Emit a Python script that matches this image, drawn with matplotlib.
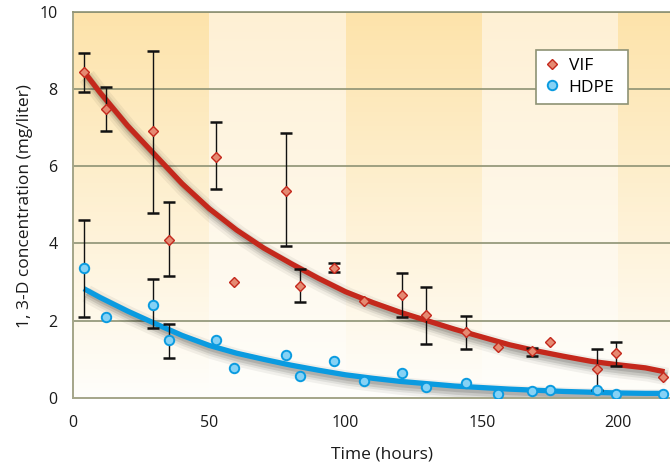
import numpy as np
import matplotlib
matplotlib.use('Agg')
import matplotlib.pyplot as plt
import matplotlib.patheffects as pe
from matplotlib.colors import to_rgb
from matplotlib.patches import Rectangle

# ---------------- data ----------------
time_h = [4.0, 12.0, 29.4, 35.3, 52.6, 59.1, 78.2, 83.3, 95.8, 106.8,
          120.8, 129.5, 144.3, 155.9, 168.4, 175.0, 192.4, 199.2, 216.4]

vif = [8.43, 7.49, 6.91, 4.10, 6.25, 3.00, 5.36, 2.91, 3.37, 2.51,
       2.67, 2.14, 1.70, 1.32, 1.21, 1.44, 0.75, 1.16, 0.54]
vif_lo = [7.92, 6.91, 4.79, 3.15, 5.40, np.nan, 3.94, 2.49, 3.26, np.nan,
          2.10, 1.41, 1.27, np.nan, 1.09, np.nan, 0.22, 0.83, np.nan]
vif_hi = [8.92, 8.06, 8.99, 5.07, 7.14, np.nan, 6.86, 3.35, 3.50, np.nan,
          3.24, 2.88, 2.13, np.nan, 1.30, np.nan, 1.27, 1.45, np.nan]

hdpe = [3.37, 2.10, 2.42, 1.49, 1.49, 0.78, 1.12, 0.58, 0.96, 0.45,
        0.66, 0.29, 0.38, 0.10, 0.19, 0.22, 0.20, 0.10, 0.10]
hdpe_lo = [2.10, np.nan, 1.82, 1.04, np.nan, np.nan, np.nan, np.nan, np.nan, np.nan,
           np.nan, np.nan, np.nan, np.nan, np.nan, np.nan, np.nan, np.nan, np.nan]
hdpe_hi = [4.60, np.nan, 3.08, 1.92, np.nan, np.nan, np.nan, np.nan, np.nan, np.nan,
           np.nan, np.nan, np.nan, np.nan, np.nan, np.nan, np.nan, np.nan, np.nan]

fit_time = [4, 10, 20, 30, 40, 50, 60, 70, 80, 90, 100, 110, 120, 130, 140,
            150, 160, 170, 180, 190, 200, 210, 217]
vif_fit = [8.45, 7.9, 7.05, 6.3, 5.55, 4.9, 4.35, 3.88, 3.48, 3.1, 2.75, 2.47,
           2.22, 2.0, 1.78, 1.58, 1.38, 1.22, 1.08, 0.95, 0.86, 0.78, 0.68]
hdpe_fit = [2.83, 2.6, 2.25, 1.93, 1.62, 1.36, 1.16, 1.0, 0.85, 0.72, 0.6, 0.51,
            0.43, 0.37, 0.31, 0.27, 0.23, 0.2, 0.17, 0.15, 0.13, 0.12, 0.12]

x_ticks = [0, 50, 100, 150, 200]
y_ticks = [0, 2, 4, 6, 8, 10]
band_edges = [0, 50, 100, 150, 200, 220]

x_label = "Time (hours)"
y_label = "1, 3-D concentration (mg/liter)"
series_names = ["VIF", "HDPE"]

# ---------------- style ----------------
plt.rcParams['font.family'] = ['Open Sans', 'DejaVu Sans']
RED = '#c4281c'
RED_FILL = '#e58a72'
BLUE = '#0a9be0'
BLUE_FILL = '#86d2f5'
GRID = '#8e9274'
SPINE = '#a4a588'

fig = plt.figure(figsize=(6.7, 4.7), dpi=100)
ax = fig.add_axes([73 / 670, 1 - 398 / 470, 597 / 670, 386.3 / 470])

# background bands with vertical gradient
grad = np.linspace(0, 1, 256)[:, None]
def band(x0, x1, top):
    t = np.array(to_rgb(top))
    bot = np.array(to_rgb('#fffefb'))
    img = bot[None, None, :] * (1 - grad[..., None]) + t[None, None, :] * grad[..., None]
    img = np.repeat(img, 2, axis=1)
    ax.imshow(img, extent=(x0, x1, 0, 10), origin='lower', aspect='auto',
              zorder=0, interpolation='bilinear')

for i in range(len(band_edges) - 1):
    band(band_edges[i], band_edges[i + 1], '#fde3aa' if i % 2 == 0 else '#fef0d4')
ax.set_xlim(0, 219)
ax.set_ylim(0, 10)

# grid
for yv in y_ticks[1:]:
    ax.axhline(yv, color=GRID, lw=1.2, zorder=1)

# fitted curves with soft shadow
def shadow(lw):
    return [pe.SimpleLineShadow(offset=(2, -3.5), shadow_color='k', alpha=0.05, linewidth=lw + 9),
            pe.SimpleLineShadow(offset=(2, -3.5), shadow_color='k', alpha=0.07, linewidth=lw + 5),
            pe.SimpleLineShadow(offset=(2, -3.5), shadow_color='k', alpha=0.10, linewidth=lw + 2),
            pe.SimpleLineShadow(offset=(1.5, -2.5), shadow_color='k', alpha=0.12, linewidth=lw),
            pe.Normal()]

ax.plot(fit_time, vif_fit, color=RED, lw=3.8, zorder=2, solid_capstyle='butt',
        path_effects=shadow(3.8))
ax.plot(fit_time, hdpe_fit, color=BLUE, lw=3.8, zorder=2, solid_capstyle='butt',
        path_effects=shadow(3.8))

# error bars
def errbars(x, y, lo, hi):
    x = np.array(x); y = np.array(y); lo = np.array(lo); hi = np.array(hi)
    m = ~np.isnan(lo)
    ax.errorbar(x[m], y[m], yerr=[y[m] - lo[m], hi[m] - y[m]], fmt='none',
                ecolor='#111111', elinewidth=1.0, capsize=4.5, capthick=1.8, zorder=3)

errbars(time_h, vif, vif_lo, vif_hi)
errbars(time_h, hdpe, hdpe_lo, hdpe_hi)

# markers
ax.plot(time_h, vif, 'D', ms=5.2, mfc=RED_FILL, mec=RED, mew=1.0, zorder=4,
        label=series_names[0], linestyle='none')
ax.plot(time_h, hdpe, 'o', ms=6.8, mfc=BLUE_FILL, mec=BLUE, mew=1.4, zorder=4,
        label=series_names[1], linestyle='none')

# axes styling
ax.set_xticks(x_ticks)
ax.set_yticks(y_ticks)
ax.tick_params(axis='both', length=0, labelsize=11.5, colors='#1a1a1a')
ax.tick_params(axis='x', pad=12)
ax.tick_params(axis='y', pad=11)
ax.spines['right'].set_visible(False)
ax.spines['top'].set_color(GRID)
ax.spines['top'].set_linewidth(1.2)
for s in ['left', 'bottom']:
    ax.spines[s].set_color(SPINE)
    ax.spines[s].set_linewidth(1.4)

ax.set_xlabel(x_label, fontsize=12.5, color='#1a1a1a')
ax.set_ylabel(y_label, fontsize=12.5, color='#1a1a1a')
ax.xaxis.set_label_coords(0.5176, -0.145)
ax.xaxis.label.set_va('center')
ax.yaxis.set_label_coords(-0.080, 0.497)
ax.yaxis.label.set_va('center')

# legend box and entries
ax.add_patch(Rectangle((0.775, 0.761), 0.154, 0.140, transform=ax.transAxes,
                       facecolor='white', edgecolor=GRID, lw=1.2, zorder=5))
leg = ax.legend(loc='upper left', bbox_to_anchor=(0.791, 0.880), borderaxespad=0,
                borderpad=0, frameon=False, fontsize=12.5,
                handlelength=0.8, handletextpad=0.55, labelspacing=0.3)
leg.set_zorder(6)

fig.savefig('out.png', dpi=100)
